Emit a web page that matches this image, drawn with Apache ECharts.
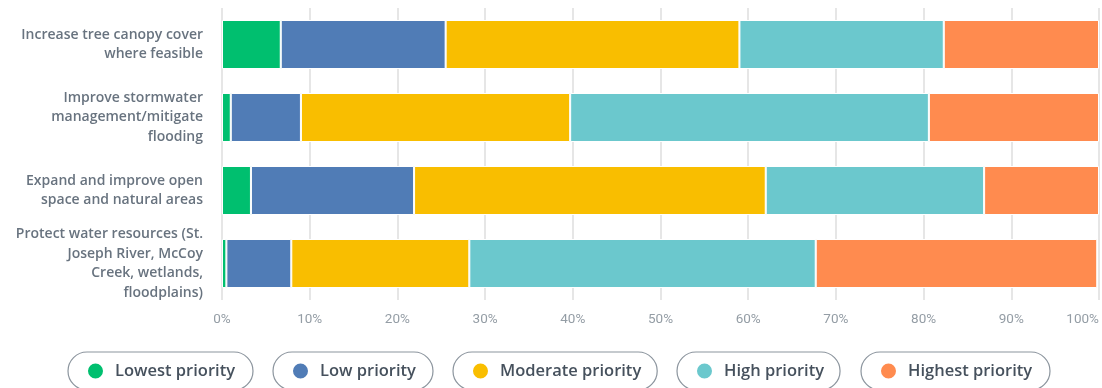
<!DOCTYPE html>
<html>
<head>
<meta charset="utf-8">
<script src="https://cdn.jsdelivr.net/npm/echarts@6/dist/echarts.min.js"></script>
<style>
  html, body { margin: 0; padding: 0; background: #fff; }
  #chart { width: 1102px; height: 388px; }
</style>
</head>
<body>
<div id="chart"></div>
<script>
// Survey question rows (top to bottom)
const categories = [
  'Increase tree canopy cover\nwhere feasible',
  'Improve stormwater\nmanagement/mitigate\nflooding',
  'Expand and improve open\nspace and natural areas',
  'Protect water resources (St.\nJoseph River, McCoy\nCreek, wetlands,\nfloodplains)'
];

// Share of respondents (%) per priority level, same order as categories
const lowest   = [6.7, 1.0, 3.3, 0.5];
const low      = [18.8, 8.0, 18.6, 7.4];
const moderate = [33.5, 30.7, 40.1, 20.3];
const high     = [23.3, 40.9, 24.9, 39.5];
const highest  = [17.7, 19.4, 13.1, 32.1];

const seriesNames = ['Lowest priority', 'Low priority', 'Moderate priority', 'High priority', 'Highest priority'];
const seriesData = [lowest, low, moderate, high, highest];
const colors = ['#00bf6f', '#507cb6', '#f9be00', '#6bc8cd', '#ff8b4f'];

// legend pill placement
const pillLeft = [68, 273, 453, 677, 861];
const pillTextWidth = [122, 97, 139, 99, 126];

const chart = echarts.init(document.getElementById('chart'), null, { renderer: 'canvas' });

const series = seriesNames.map((name, i) => ({
  name: name,
  type: 'bar',
  stack: 'total',
  barWidth: 49,
  data: seriesData[i],
  itemStyle: { color: colors[i], borderColor: '#ffffff', borderWidth: 1 },
  emphasis: { disabled: true }
}));

const legends = seriesNames.map((name, i) => ({
  data: [name],
  left: pillLeft[i],
  top: 352,
  orient: 'horizontal',
  icon: 'circle',
  itemWidth: 17,
  itemHeight: 17,
  itemGap: 0,
  padding: [9, 16, 9, 18],
  borderColor: '#8c959e',
  borderWidth: 1.2,
  borderRadius: 19,
  selectedMode: false,
  textStyle: {
    fontFamily: 'Open Sans',
    fontSize: 16.5,
    fontWeight: 600,
    color: '#46515d',
    lineHeight: 20,
    width: pillTextWidth[i],
    padding: [0, 0, 0, 6]
  }
}));

chart.setOption({
  animation: false,
  color: colors,
  grid: { left: 222, right: 1, top: 8, bottom: 88, containLabel: false },
  legend: legends,
  xAxis: {
    type: 'value',
    min: 0,
    max: 100,
    interval: 10,
    axisLine: { show: false },
    axisTick: { show: false },
    splitLine: { show: true, lineStyle: { color: '#e6e6e6', width: 2 } },
    axisLabel: {
      formatter: '{value}%',
      color: '#949da5',
      fontFamily: 'Roboto',
      fontSize: 13.5,
      margin: 13,
      alignMaxLabel: 'right'
    }
  },
  yAxis: {
    type: 'category',
    inverse: true,
    data: categories,
    axisLine: { show: false },
    axisTick: { show: false },
    axisLabel: {
      color: '#68737f',
      fontFamily: 'Open Sans',
      fontSize: 14,
      fontWeight: 600,
      lineHeight: 19.5,
      margin: 19,
      align: 'right'
    }
  },
  series: series
});
</script>
</body>
</html>
